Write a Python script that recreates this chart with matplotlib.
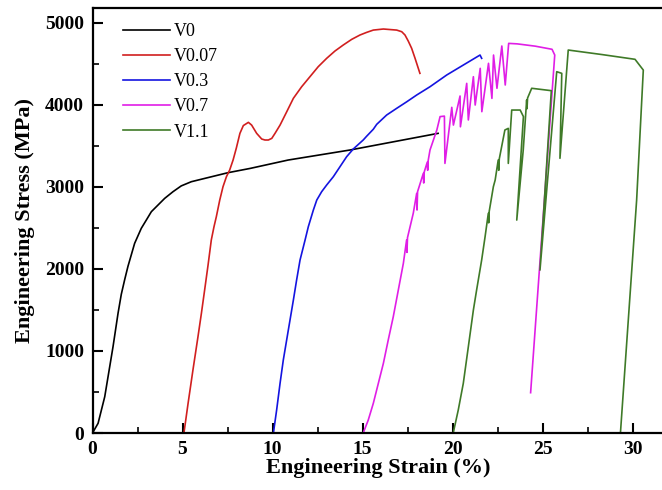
import matplotlib
matplotlib.use("Agg")
import matplotlib.pyplot as plt
from matplotlib.ticker import MultipleLocator

# ---- data ----
labels = ["V0", "V0.07", "V0.3", "V0.7", "V1.1"]
colors = ["#000000", "#d11f1f", "#1414e0", "#e01ee6", "#3f7a28"]

v0_x = [0, 0.31, 0.68, 1.14, 1.42, 1.60, 1.79, 1.97, 2.34, 2.71, 2.99, 3.27, 3.64, 4.01, 4.47, 4.93,
        5.49, 6.23, 7.53, 8.76, 10.87, 14.30, 19.20]
v0_y = [0, 118, 442, 1051, 1460, 1690, 1870, 2030, 2310, 2493, 2594, 2696, 2777, 2858, 2939, 3010,
        3061, 3101, 3171, 3223, 3325, 3447, 3650]

v007_x = [5.08, 5.31, 5.58, 5.86, 6.05, 6.23, 6.42, 6.60, 6.75, 6.88, 7.07, 7.25, 7.44, 7.62, 7.81, 7.99,
          8.19, 8.38, 8.66, 8.84, 9.12, 9.40, 9.58, 9.77, 9.96, 10.14, 10.42, 10.79, 11.16, 11.62, 12.08,
          12.54, 13.01, 13.47, 13.93, 14.40, 14.86, 15.23, 15.60, 16.16, 16.90, 17.18, 17.36, 17.54,
          17.73, 17.92, 18.19]
v007_y = [0, 361, 767, 1173, 1458, 1742, 2046, 2351, 2513, 2635, 2838, 3000, 3122, 3203, 3325, 3470,
          3650, 3745, 3784, 3751, 3650, 3581, 3569, 3569, 3589, 3650, 3751, 3913, 4077, 4218, 4340,
          4462, 4564, 4653, 4726, 4795, 4848, 4880, 4908, 4921, 4908, 4888, 4848, 4775,
          4686, 4564, 4381]

v03_x = [10.05, 10.23, 10.42, 10.60, 10.88, 11.16, 11.34, 11.53, 11.81, 11.99, 12.27, 12.46, 12.73, 13.01,
         13.38, 13.75, 14.12, 14.49, 15.04, 15.23, 15.60, 15.79, 16.34, 16.90, 17.46, 18.01, 18.75,
         19.68, 20.60, 21.53, 21.62]
v03_y = [0, 280, 605, 889, 1255, 1620, 1864, 2107, 2351, 2513, 2716, 2838, 2939, 3021,
         3122, 3244, 3366, 3460, 3569, 3615, 3700, 3760, 3873, 3955, 4035, 4117, 4218,
         4361, 4482, 4604, 4564]

v07_x = [15.04, 15.32, 15.60, 15.88, 16.16, 16.43, 16.71, 16.99, 17.27, 17.45, 17.47, 17.50, 17.82, 18.01,
         18.03, 18.06, 18.38, 18.40, 18.43, 18.60, 18.62, 18.65, 18.75, 19.13, 19.31, 19.55, 19.58, 19.96,
         20.05, 20.42, 20.44, 20.79, 20.88, 21.16, 21.26, 21.54, 21.63, 22.00, 22.19, 22.28, 22.47, 22.74,
         22.93, 23.12, 23.60, 24.60, 25.53, 25.68, 24.34]
v07_y = [0, 158, 361, 605, 849, 1133, 1417, 1742, 2067, 2351, 2200, 2380, 2676, 2919,
         2716, 2940, 3163, 3045, 3180, 3300, 3200, 3320, 3447, 3691, 3854, 3860, 3284, 3967,
         3751, 4105, 3730, 4259, 3813, 4340, 3995, 4442, 3914, 4503, 4076, 4604, 4199, 4714,
         4239, 4746, 4740, 4712, 4674, 4604, 491]

v11_x = [20.04, 20.32, 20.60, 20.88, 21.16, 21.34, 21.62, 21.81, 21.99, 22.01, 22.04, 22.27, 22.37, 22.54,
         22.57, 22.60, 22.91, 23.10, 23.10, 23.29, 23.76, 23.94, 23.57, 23.93, 24.12, 24.14, 24.17, 24.40,
         25.49, 24.86, 25.79, 26.07, 25.97, 26.43, 28.30, 30.14, 30.60, 30.23, 29.33]
v11_y = [0, 280, 605, 1051, 1498, 1742, 2107, 2391, 2676, 2560, 2700, 3000, 3081, 3325,
         3200, 3340, 3691, 3711, 3284, 3934, 3934, 3854, 2594, 3447, 4056, 3950, 4080, 4199,
         4170, 1985, 4401, 4381, 3346, 4665, 4610, 4552, 4421, 2838, 0]

series_x = [v0_x, v007_x, v03_x, v07_x, v11_x]
series_y = [v0_y, v007_y, v03_y, v07_y, v11_y]

x_ticks = [0, 5, 10, 15, 20, 25, 30]
y_ticks = [0, 1000, 2000, 3000, 4000, 5000]

# ---- figure ----
plt.rcParams['font.family'] = ['Liberation Serif', 'DejaVu Serif']
fig = plt.figure(figsize=(6.62, 4.90), dpi=100)
ax = fig.add_axes([92.5 / 662, 57 / 490, 31.7 * 18.0 / 662, 425 / 490])

for xs, ys, c, lab in zip(series_x, series_y, colors, labels):
    ax.plot(xs, ys, color=c, lw=1.2, label=lab, solid_joinstyle='round')

ax.set_xlim(0, 31.7)
ax.set_ylim(0, 5177)
ax.set_xticks(x_ticks)
ax.set_yticks(y_ticks)
ax.xaxis.set_minor_locator(MultipleLocator(2.5))
ax.yaxis.set_minor_locator(MultipleLocator(500))
ax.tick_params(which='major', direction='in', length=7, width=1.5, labelsize=14, pad=6,
               top=False, right=False)
ax.tick_params(which='minor', direction='in', length=4, width=1.2, top=False, right=False)
for lab in ax.get_xticklabels() + ax.get_yticklabels():
    lab.set_fontweight('bold')
for sp in ax.spines.values():
    sp.set_linewidth(1.6)

ax.set_xlabel("Engineering Strain (%)", fontsize=16, fontweight='bold', labelpad=0)
ax.set_ylabel("Engineering Stress (MPa)", fontsize=16, fontweight='bold', labelpad=7)

leg = ax.legend(loc='upper left', bbox_to_anchor=(0.035, 0.99), frameon=False, fontsize=13,
                handlelength=2.6, handletextpad=0.2, labelspacing=0.45, borderaxespad=0.2)

fig.savefig("out.png", dpi=100)
